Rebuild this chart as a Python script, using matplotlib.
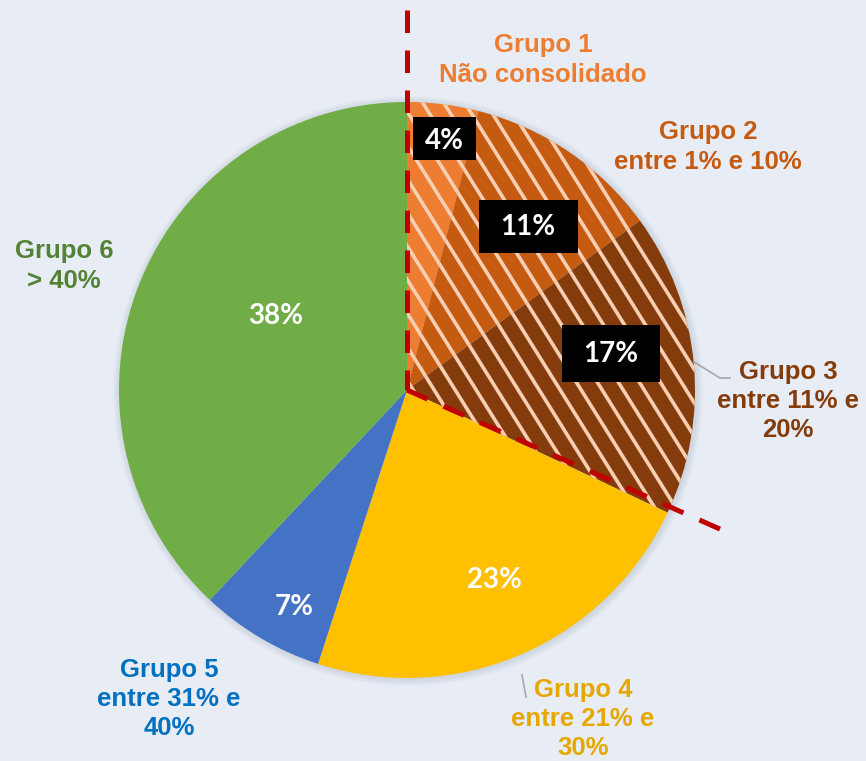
import numpy as np
import matplotlib
matplotlib.use("Agg")
import matplotlib.pyplot as plt
from matplotlib.collections import LineCollection
from matplotlib.patches import Circle, Rectangle

# data
grupos = ["Grupo 1\nNão consolidado", "Grupo 2\nentre 1% e 10%", "Grupo 3\nentre 11% e\n20%",
          "Grupo 4\nentre 21% e\n30%", "Grupo 5\nentre 31% e\n40%", "Grupo 6\n> 40%"]
valores = [4, 11, 17, 23, 7, 38]
cores = ["#ED7D31", "#C55A11", "#843C0C", "#FFC000", "#4472C4", "#70AD47"]
cores_txt = ["#ED7D31", "#C55A11", "#843C0C", "#E6A800", "#0070C0", "#548235"]
hachurado = [True, True, True, False, False, False]

W, H = 866, 761
def Y(py):
    return H - py

fig = plt.figure(figsize=(W / 100, H / 100), dpi=100)
fig.patch.set_facecolor("#e8edf5")
ax = fig.add_axes([0, 0, 1, 1])
ax.set_facecolor("#e8edf5")

cx, cy, r = 407, Y(390), 288

# soft shadow
for k in range(1, 8):
    ax.add_patch(Circle((cx + 1, cy - 1), r + k, color="#8a93a3", alpha=0.035, lw=0, zorder=0))

wedges, _ = ax.pie(valores, colors=cores, startangle=90, counterclock=False,
                   center=(cx, cy), radius=r, wedgeprops=dict(linewidth=0))

# hatch lines clipped to wedges
ang = np.deg2rad(58)
d = np.array([np.cos(ang), -np.sin(ang)])
step = 21
segs = []
for x0 in np.arange(cx - 600, cx + 900, step):
    p0 = np.array([x0, cy + r + 10])
    segs.append([p0 - d * 50, p0 + d * 900])
for w, h in zip(wedges, hachurado):
    if h:
        lc = LineCollection(segs, colors="#f9cfb3", linewidths=2.6, zorder=3)
        lc.set_clip_path(w)
        ax.add_collection(lc)

# percent labels
pos_pct = [(444, 141), (528, 227), (611, 354), (494, 580), (294, 607), (276, 316)]
caixas = [(413, 117, 63, 43), (479, 200, 99, 53), (562, 325, 98, 57)]
for i, (v, (px, py)) in enumerate(zip(valores, pos_pct)):
    if hachurado[i]:
        bx, by, bw, bh = caixas[i]
        ax.add_patch(Rectangle((bx, Y(by + bh)), bw, bh, fc="black", ec="none", zorder=5))
    ax.text(px, Y(py), f"{v}%", color="white", fontsize=20, fontweight="bold",
            family="Lato", ha="center", va="center", zorder=6)

# group labels
pos_lab = [(543, 60), (708, 147), (788, 401), (583, 719), (169, 699), (64, 266)]
for g, c, (px, py) in zip(grupos, cores_txt, pos_lab):
    ax.text(px, Y(py), g, color=c, fontsize=18.5, fontweight="bold", family="Liberation Sans",
            ha="center", va="center", linespacing=1.28, zorder=6)

# leader lines
ax.plot([694, 720, 730], [Y(362), Y(378), Y(378)], color="#a6a6a6", lw=1.2, zorder=5)
ax.plot([522, 526], [Y(675), Y(697)], color="#a6a6a6", lw=1.2, zorder=5)

# red dashed lines
ax.plot([cx, cx], [Y(10), cy], color="#C00000", lw=3.6, ls=(0, (4.5, 3.5)), zorder=7,
        dash_capstyle="butt")
ax.plot([cx, 722], [cy, Y(530)], color="#C00000", lw=3.6, ls=(0, (4.5, 3.5)), zorder=7,
        dash_capstyle="butt")

ax.set_xlim(0, W)
ax.set_ylim(0, H)
ax.set_aspect("equal")
ax.axis("off")
fig.savefig("out.png", dpi=100, facecolor=fig.get_facecolor())
